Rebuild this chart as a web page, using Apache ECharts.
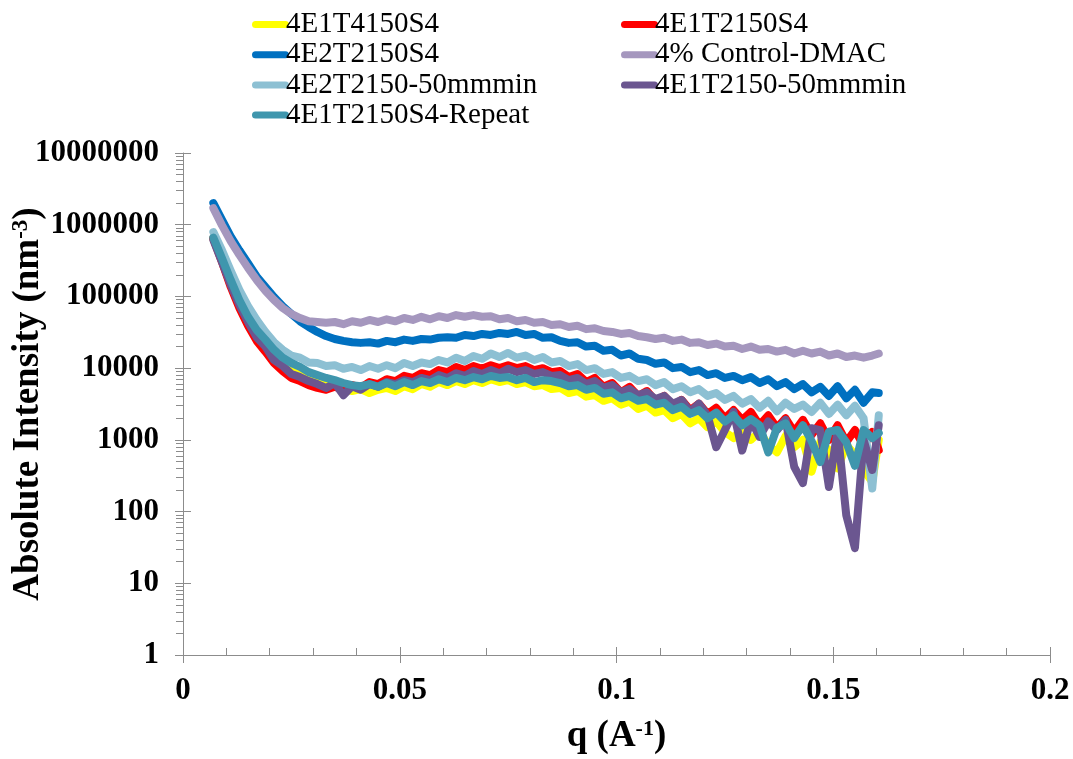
<!DOCTYPE html>
<html>
<head>
<meta charset="utf-8">
<script src="https://cdn.jsdelivr.net/npm/echarts@6.0.0/dist/echarts.min.js"></script>
<style>
  html, body { margin: 0; padding: 0; background: #ffffff; }
  #chart { width: 1073px; height: 759px; }
</style>
</head>
<body>
<div id="chart"></div>
<script>
// Scattering vector q (1/A)
const q = [0.007,0.009,0.011,0.013,0.015,0.017,0.019,0.021,0.023,0.025,
  0.027,0.029,0.031,0.033,0.035,0.037,0.039,0.041,0.043,0.045,
  0.047,0.049,0.051,0.053,0.055,0.057,0.059,0.061,0.063,0.065,
  0.067,0.069,0.071,0.073,0.075,0.077,0.079,0.081,0.083,0.085,
  0.087,0.089,0.091,0.093,0.095,0.097,0.099,0.101,0.103,0.105,
  0.107,0.109,0.111,0.113,0.115,0.117,0.119,0.121,0.123,0.125,
  0.127,0.129,0.131,0.133,0.135,0.137,0.139,0.141,0.143,0.145,
  0.147,0.149,0.151,0.153,0.155,0.157,0.159,0.1605];

// Absolute intensity (nm^-3) per sample
const s4E1T4150S4 = [6.4e5,3.2e5,1.55e5,8.1e4,4.7e4,2.9e4,2.05e4,1.5e4,1.2e4,1.04e4,
  9.1e3,7.8e3,6.8e3,6.2e3,5.6e3,5.1e3,4.8e3,5.1e3,4.5e3,5.0e3,
  5.3e3,4.8e3,5.6e3,5.1e3,6.0e3,5.5e3,6.4e3,5.8e3,6.6e3,6.0e3,
  6.8e3,6.2e3,7.0e3,6.4e3,6.8e3,6.0e3,6.4e3,5.6e3,5.8e3,5.1e3,
  5.3e3,4.5e3,4.8e3,4.0e3,4.2e3,3.5e3,3.8e3,3.1e3,3.4e3,2.7e3,
  3.0e3,2.4e3,2.6e3,2.0e3,2.3e3,1.7e3,2.0e3,1.5e3,1.8e3,1.29e3,
  1.06e3,1.47e3,1.0e3,1.29e3,850,670,1.13e3,790,1.0e3,360,
  930,720,400,850,620,380,260,1.0e3];

const s4E1T2150S4 = [6.4e5,3.0e5,1.36e5,6.9e4,3.9e4,2.4e4,1.7e4,1.18e4,9.1e3,7.3e3,
  6.6e3,5.8e3,5.3e3,5.0e3,5.5e3,5.0e3,5.8e3,5.3e3,6.4e3,6.0e3,
  7.0e3,6.6e3,7.8e3,7.3e3,8.5e3,8.0e3,9.4e3,8.8e3,1.04e4,9.4e3,
  1.07e4,9.8e3,1.1e4,1.0e4,1.1e4,1.0e4,1.07e4,9.4e3,1.0e4,8.8e3,
  9.1e3,7.5e3,8.3e3,6.4e3,7.3e3,5.5e3,6.2e3,4.6e3,5.5e3,4.1e3,
  4.8e3,3.5e3,4.1e3,3.0e3,3.6e3,2.6e3,3.2e3,2.3e3,2.8e3,2.0e3,
  2.6e3,1.9e3,2.45e3,1.6e3,2.2e3,1.47e3,2.0e3,1.29e3,1.9e3,1.17e3,
  1.7e3,1.0e3,1.6e3,930,1.37e3,830,1.29e3,720];

const s4E2T2150S4 = [2.0e6,1.17e6,6.9e5,4.4e5,2.9e5,1.9e5,1.36e5,9.8e4,7.3e4,5.7e4,
  4.5e4,3.75e4,3.2e4,2.8e4,2.55e4,2.4e4,2.3e4,2.25e4,2.3e4,2.2e4,
  2.4e4,2.3e4,2.5e4,2.4e4,2.55e4,2.5e4,2.65e4,2.7e4,2.65e4,2.9e4,
  2.8e4,3.0e4,2.9e4,3.1e4,3.0e4,3.2e4,2.9e4,3.0e4,2.65e4,2.7e4,
  2.4e4,2.25e4,2.3e4,2.0e4,2.05e4,1.75e4,1.8e4,1.5e4,1.6e4,1.35e4,
  1.3e4,1.15e4,1.2e4,1.0e4,1.04e4,8.8e3,9.4e3,8.0e3,8.5e3,7.3e3,
  7.8e3,6.8e3,7.5e3,6.2e3,7.0e3,5.6e3,6.4e3,5.1e3,6.0e3,4.6e3,
  5.5e3,4.1e3,5.6e3,3.8e3,5.0e3,3.3e3,4.6e3,4.5e3];

const sControlDMAC = [1.7e6,9.8e5,5.9e5,3.8e5,2.5e5,1.7e5,1.2e5,8.9e4,6.9e4,5.7e4,
  5.0e4,4.5e4,4.4e4,4.3e4,4.4e4,4.1e4,4.5e4,4.3e4,4.7e4,4.4e4,
  4.8e4,4.5e4,5.0e4,4.7e4,5.2e4,4.8e4,5.3e4,5.0e4,5.5e4,5.2e4,
  5.5e4,5.2e4,5.3e4,4.8e4,5.0e4,4.5e4,4.7e4,4.3e4,4.4e4,4.0e4,
  4.1e4,3.75e4,3.9e4,3.5e4,3.6e4,3.3e4,3.2e4,3.0e4,3.1e4,2.8e4,
  2.7e4,2.55e4,2.65e4,2.4e4,2.5e4,2.25e4,2.3e4,2.1e4,2.2e4,2.0e4,
  2.05e4,1.85e4,2.0e4,1.8e4,1.85e4,1.7e4,1.8e4,1.6e4,1.75e4,1.6e4,
  1.7e4,1.5e4,1.6e4,1.43e4,1.5e4,1.4e4,1.5e4,1.6e4];

const s4E2T2150_50 = [7.9e5,4.4e5,2.3e5,1.23e5,7.3e4,4.7e4,3.2e4,2.3e4,1.8e4,1.5e4,
  1.4e4,1.2e4,1.18e4,1.07e4,1.1e4,9.8e3,1.04e4,9.4e3,1.07e4,9.8e3,
  1.1e4,1.0e4,1.18e4,1.07e4,1.2e4,1.14e4,1.3e4,1.2e4,1.4e4,1.26e4,
  1.48e4,1.35e4,1.6e4,1.43e4,1.63e4,1.4e4,1.5e4,1.3e4,1.43e4,1.2e4,
  1.26e4,1.07e4,1.14e4,9.4e3,1.0e4,8.3e3,8.8e3,7.3e3,7.8e3,6.6e3,
  7.0e3,5.8e3,6.4e3,5.1e3,5.6e3,4.6e3,5.1e3,4.1e3,4.5e3,3.6e3,
  4.1e3,3.2e3,3.7e3,2.8e3,3.5e3,2.5e3,3.3e3,2.7e3,3.1e3,2.45e3,
  3.3e3,2.3e3,3.1e3,2.2e3,3.0e3,2.0e3,210,2.2e3];

const s4E1T2150_50 = [6.1e5,3.0e5,1.45e5,7.6e4,4.4e4,2.7e4,2.0e4,1.3e4,1.07e4,8.3e3,
  7.5e3,6.6e3,6.0e3,5.3e3,6.2e3,4.2e3,5.6e3,5.0e3,6.0e3,5.5e3,
  6.4e3,6.0e3,6.8e3,6.4e3,7.3e3,6.8e3,8.0e3,7.3e3,8.5e3,7.8e3,
  9.1e3,8.3e3,9.4e3,8.5e3,9.8e3,8.8e3,9.4e3,8.3e3,8.8e3,7.8e3,
  8.0e3,6.8e3,7.3e3,6.0e3,6.6e3,5.3e3,5.8e3,4.6e3,5.1e3,4.2e3,
  4.6e3,3.7e3,4.1e3,3.2e3,3.6e3,2.45e3,3.2e3,2.2e3,790,1.37e3,
  2.45e3,710,1.9e3,1.1e3,1.8e3,1.37e3,1.9e3,420,250,1.45e3,
  1.37e3,220,1.37e3,89,31,1.0e3,380,1.6e3];

const s4E1T2150S4Repeat = [6.6e5,3.4e5,1.7e5,8.9e4,5.2e4,3.4e4,2.5e4,1.8e4,1.4e4,1.18e4,
  1.04e4,8.8e3,8.0e3,7.3e3,6.8e3,6.2e3,5.8e3,5.6e3,6.0e3,5.5e3,
  6.2e3,5.6e3,6.4e3,5.8e3,6.6e3,6.2e3,7.0e3,6.4e3,7.3e3,6.8e3,
  7.5e3,7.0e3,7.8e3,7.3e3,7.5e3,6.8e3,7.3e3,6.4e3,6.8e3,6.6e3,
  6.2e3,5.6e3,5.8e3,5.0e3,5.3e3,4.4e3,4.6e3,3.8e3,4.1e3,3.5e3,
  3.7e3,3.1e3,3.3e3,2.6e3,2.9e3,2.3e3,2.6e3,2.0e3,2.4e3,1.8e3,
  2.2e3,1.6e3,1.95e3,1.6e3,670,1.47e3,1.7e3,1.06e3,1.6e3,960,
  490,1.3e3,1.37e3,930,435,1.37e3,1.06e3,1.25e3];

const seriesNames = ['4E1T4150S4','4E1T2150S4','4E2T2150S4','4% Control-DMAC',
  '4E2T2150-50mmmin','4E1T2150-50mmmin','4E1T2150S4-Repeat'];
const seriesValues = [s4E1T4150S4, s4E1T2150S4, s4E2T2150S4, sControlDMAC,
  s4E2T2150_50, s4E1T2150_50, s4E1T2150S4Repeat];
const seriesColors = ['#FFFF00','#FF0000','#0070C0','#A597BE','#8DC0D3','#6B5690','#3F96AD'];

const xTicks = [0, 0.05, 0.1, 0.15, 0.2];

const FONT = 'Liberation Serif';
const AXIS_GRAY = '#8C8C8C';
const capsule = 'path://M3.5,0 H33.5 A3.5,3.5 0 0 1 33.5,7 H3.5 A3.5,3.5 0 0 1 3.5,0 Z';

const chart = echarts.init(document.getElementById('chart'), null, { renderer: 'canvas' });

// legend entries rendered through a rich token so the serif face is applied
const legendText = {
  fontFamily: FONT, fontSize: 29, color: '#000',
  rich: { t: { fontFamily: FONT, fontSize: 29, fontWeight: 'normal', color: '#000', lineHeight: 31, padding: [0, 0, 0, -8] } }
};
const legendBase = {
  orient: 'vertical',
  top: 5,
  itemWidth: 37,
  itemHeight: 7,
  itemGap: 1.2,
  icon: capsule,
  formatter: '{t|{name}}',
  textStyle: legendText
};
const legendItems = idx => idx.map(i => seriesNames[i]);

const logAxisCommon = {
  type: 'log',
  logBase: 10,
  min: 1,
  max: 10000000,
  interval: 1,
  splitLine: { show: false }
};

chart.setOption({
  animation: false,
  backgroundColor: '#ffffff',
  textStyle: { fontFamily: FONT },
  grid: { left: 183, right: 23, top: 153, bottom: 104, containLabel: false, outerBoundsMode: 'none' },
  legend: [
    Object.assign({}, legendBase, { left: 247, data: legendItems([0, 2, 4, 6]) }),
    Object.assign({}, legendBase, { left: 616, data: legendItems([1, 3, 5]) })
  ],
  xAxis: [
    {
      type: 'value',
      min: xTicks[0],
      max: xTicks[xTicks.length - 1],
      interval: 0.05,
      position: 'bottom',
      offset: 0,
      axisLine: { show: true, lineStyle: { color: AXIS_GRAY, width: 1 } },
      axisTick: { show: true, inside: true, length: 8, lineStyle: { color: AXIS_GRAY } },
      minorTick: { show: true, splitNumber: 5, length: 7, lineStyle: { color: AXIS_GRAY } },
      splitLine: { show: false },
      axisLabel: {
        margin: 20, fontFamily: FONT, fontSize: 31, fontWeight: 'bold', color: '#000',
        formatter: v => String(+v.toFixed(2))
      },
      name: '{a|q (A}{b|-1}{a|)}',
      nameLocation: 'middle',
      nameGap: 63,
      nameTextStyle: {
        rich: {
          a: { fontFamily: FONT, fontSize: 37, fontWeight: 'bold', color: '#000' },
          b: { fontFamily: FONT, fontSize: 22, fontWeight: 'bold', color: '#000', verticalAlign: 'top' }
        }
      }
    },
    {
      type: 'value',
      min: xTicks[0],
      max: xTicks[xTicks.length - 1],
      interval: 0.05,
      position: 'bottom',
      offset: 0,
      axisLine: { show: false },
      axisTick: { show: true, inside: false, length: 8, lineStyle: { color: AXIS_GRAY } },
      axisLabel: { show: false },
      splitLine: { show: false }
    }
  ],
  yAxis: [
    Object.assign({}, logAxisCommon, {
      position: 'left',
      offset: 0,
      axisLine: { show: true, lineStyle: { color: AXIS_GRAY, width: 1 } },
      axisTick: { show: true, inside: false, length: 8, lineStyle: { color: AXIS_GRAY } },
      minorTick: { show: true, splitNumber: 9, length: 7, lineStyle: { color: AXIS_GRAY } },
      axisLabel: {
        margin: 24, fontFamily: FONT, fontSize: 31, fontWeight: 'bold', color: '#000',
        formatter: v => String(Math.round(v))
      },
      name: '{a|Absolute Intensity (nm}{b|-3}{a|)}',
      nameLocation: 'middle',
      nameRotate: 90,
      nameGap: 136,
      nameMoveOverlap: false,
      nameTextStyle: {
        rich: {
          a: { fontFamily: FONT, fontSize: 37, fontWeight: 'bold', color: '#000' },
          b: { fontFamily: FONT, fontSize: 23, fontWeight: 'bold', color: '#000', verticalAlign: 'top' }
        }
      }
    }),
    Object.assign({}, logAxisCommon, {
      position: 'left',
      offset: 0,
      axisLine: { show: false },
      axisTick: { show: true, inside: true, length: 8, lineStyle: { color: AXIS_GRAY } },
      axisLabel: { show: false }
    })
  ],
  series: seriesNames.map((name, k) => ({
    name: name,
    type: 'line',
    xAxisIndex: 0,
    yAxisIndex: 0,
    showSymbol: false,
    symbol: 'none',
    smooth: false,
    color: seriesColors[k],
    lineStyle: { color: seriesColors[k], width: 8, cap: 'round', join: 'round' },
    data: q.map((x, i) => [x, seriesValues[k][i]])
  }))
});
</script>
</body>
</html>
